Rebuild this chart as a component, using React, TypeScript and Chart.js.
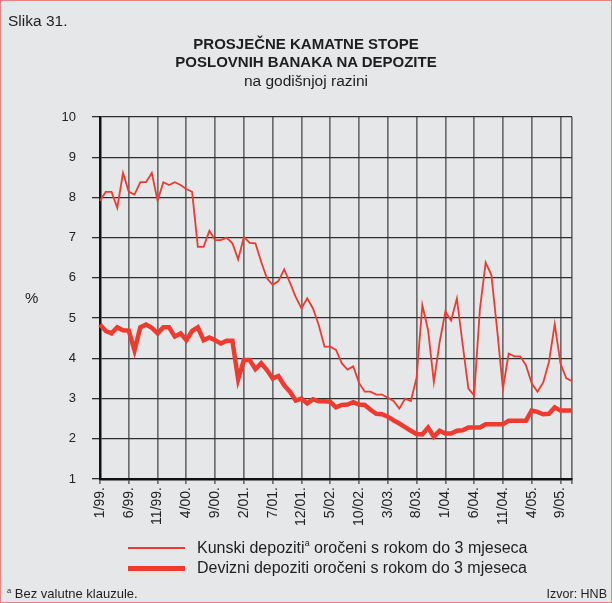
import React, { useEffect, useRef } from 'react';
import { Chart, registerables } from 'chart.js';
Chart.register(...registerables);

// Monthly data 1/99 – 11/05 (%)
const kunski = [
  7.92, 8.14, 8.14, 7.74, 8.61, 8.14, 8.07, 8.38, 8.38, 8.61, 7.92, 8.38,
  8.31, 8.38, 8.31, 8.21, 8.14, 6.77, 6.77, 7.17, 6.94, 6.94, 7.0, 6.86,
  6.46, 7.02, 6.87, 6.86, 6.4, 5.99, 5.83, 5.92, 6.21, 5.88, 5.53, 5.24,
  5.49, 5.24, 4.83, 4.29, 4.29, 4.21, 3.88, 3.72, 3.8, 3.39, 3.17, 3.17,
  3.1, 3.1, 3.02, 2.94, 2.75, 3.0, 2.94, 3.52, 5.32, 4.7, 3.41, 4.4,
  5.16, 4.94, 5.49, 4.35, 3.25, 3.08, 5.22, 6.38, 6.07, 4.7, 3.25, 4.12,
  4.05, 4.05, 3.83, 3.38, 3.17, 3.4, 3.91, 4.85, 3.87, 3.51, 3.43,
];
const devizni = [
  4.84, 4.68, 4.62, 4.77, 4.7, 4.69, 4.2, 4.77, 4.84, 4.76, 4.62, 4.77,
  4.77, 4.54, 4.62, 4.45, 4.68, 4.77, 4.45, 4.52, 4.45, 4.37, 4.44, 4.44,
  3.48, 3.96, 3.96, 3.73, 3.88, 3.71, 3.5, 3.56, 3.33, 3.17, 2.95, 3.0,
  2.88, 2.98, 2.93, 2.93, 2.92, 2.78, 2.84, 2.85, 2.91, 2.85, 2.84, 2.72,
  2.62, 2.61, 2.55, 2.46, 2.38, 2.29, 2.2, 2.12, 2.11, 2.28, 2.05, 2.2,
  2.13, 2.13, 2.2, 2.21, 2.28, 2.28, 2.28, 2.36, 2.36, 2.36, 2.36, 2.45,
  2.45, 2.45, 2.45, 2.7, 2.67, 2.61, 2.62, 2.78, 2.7, 2.7, 2.7,
];
const tickLabels = [
  '1/99.', '6/99.', '11/99.', '4/00.', '9/00.', '2/01.', '7/01.', '12/01.', '5/02.',
  '10/02.', '3/03.', '8/03.', '1/04.', '6/04.', '11/04.', '4/05.', '9/05.',
];
const months = kunski.map((_, i) => `${(i % 12) + 1}/${String((99 + Math.floor(i / 12)) % 100).padStart(2, '0')}.`);

const RED = '#ee3a2f';
const FONT = '"Liberation Sans", Arial, Helvetica, sans-serif';

export default function App() {
  const ref = useRef<HTMLCanvasElement>(null);
  useEffect(() => {
    const last = months.length - 1;
    const chart = new Chart(ref.current!, {
      type: 'line',
      data: {
        labels: months,
        datasets: [
          { label: 'Kunski', data: kunski, borderColor: RED, borderWidth: 1.8, pointRadius: 0, tension: 0, fill: false },
          { label: 'Devizni', data: devizni, borderColor: RED, borderWidth: 4.5, pointRadius: 0, tension: 0, fill: false },
        ],
      },
      options: {
        animation: false,
        responsive: false,
        devicePixelRatio: 1,
        layout: { padding: { top: 117, right: 40, left: 0, bottom: 0 } },
        plugins: { legend: { display: false }, tooltip: { enabled: false }, title: { display: false } },
        scales: {
          x: {
            type: 'category',
            offset: false,
            afterFit: (s: any) => { s.height = 124; },
            grid: { color: 'rgba(70,70,70,0.75)', lineWidth: 1.7, tickLength: 5 },
            border: { color: '#111', width: 2.5 },
            ticks: {
              autoSkip: false,
              minRotation: 90,
              maxRotation: 90,
              padding: 3,
              color: '#222',
              font: { family: FONT, size: 14 },
              callback: (_v: any, i: number) => (i % 5 === 0 ? tickLabels[i / 5] : i === last ? '' : null),
            },
          },
          y: {
            min: 1,
            max: 10,
            afterFit: (s: any) => { s.width = 100; },
            grid: { color: '#2e2e2e', lineWidth: 1.3, tickLength: 8 },
            border: { color: '#111', width: 2.5 },
            ticks: { stepSize: 1, padding: 16, color: '#222', font: { family: FONT, size: 13 } },
          },
        },
      },
    });
    return () => chart.destroy();
  }, []);

  const abs = (o: React.CSSProperties): React.CSSProperties => ({ position: 'absolute', whiteSpace: 'nowrap', ...o });

  return (
    <div style={{ position: 'fixed', left: 0, top: 0, width: 612, height: 603, background: '#e6e7e9', fontFamily: FONT, color: '#1e1e1e', overflow: 'hidden' }}>
      <canvas ref={ref} width={612} height={603} style={{ position: 'absolute', left: 0, top: 0, width: 612, height: 603 }} />
      <div style={abs({ left: 8, top: 12, fontSize: 15.5, lineHeight: '18px' })}>Slika 31.</div>
      <div style={abs({ left: 0, width: 612, top: 35, textAlign: 'center', fontSize: 15, fontWeight: 'bold', lineHeight: '18px' })}>
        PROSJEČNE KAMATNE STOPE<br />POSLOVNIH BANAKA NA DEPOZITE
      </div>
      <div style={abs({ left: 0, width: 612, top: 72, textAlign: 'center', fontSize: 15.5, lineHeight: '18px' })}>na godišnjoj razini</div>
      <div style={abs({ left: 25, top: 289, fontSize: 15, lineHeight: '18px' })}>%</div>
      <div style={abs({ left: 128, top: 547, width: 57, height: 2, background: RED })} />
      <div style={abs({ left: 128, top: 566, width: 57, height: 4.5, background: RED })} />
      <div style={abs({ left: 197, top: 538, fontSize: 16, lineHeight: '20px' })}>
        Kunski depoziti<sup style={{ fontSize: 9, verticalAlign: 'top', lineHeight: '10px' }}>a</sup> oročeni s rokom do 3 mjeseca
      </div>
      <div style={abs({ left: 197, top: 558, fontSize: 16, lineHeight: '20px' })}>Devizni depoziti oročeni s rokom do 3 mjeseca</div>
      <div style={abs({ left: 7, top: 586, fontSize: 13, lineHeight: '16px' })}>
        <sup style={{ fontSize: 7.5, verticalAlign: 'top', lineHeight: '9px' }}>a</sup> Bez valutne klauzule.
      </div>
      <div style={abs({ right: 5, top: 586, fontSize: 12.5, lineHeight: '16px' })}>Izvor: HNB</div>
      <div style={{ position: 'absolute', left: 0, top: 0, width: 612, height: 603, boxSizing: 'border-box', border: '1px solid #e8847e', pointerEvents: 'none' }} />
    </div>
  );
}
